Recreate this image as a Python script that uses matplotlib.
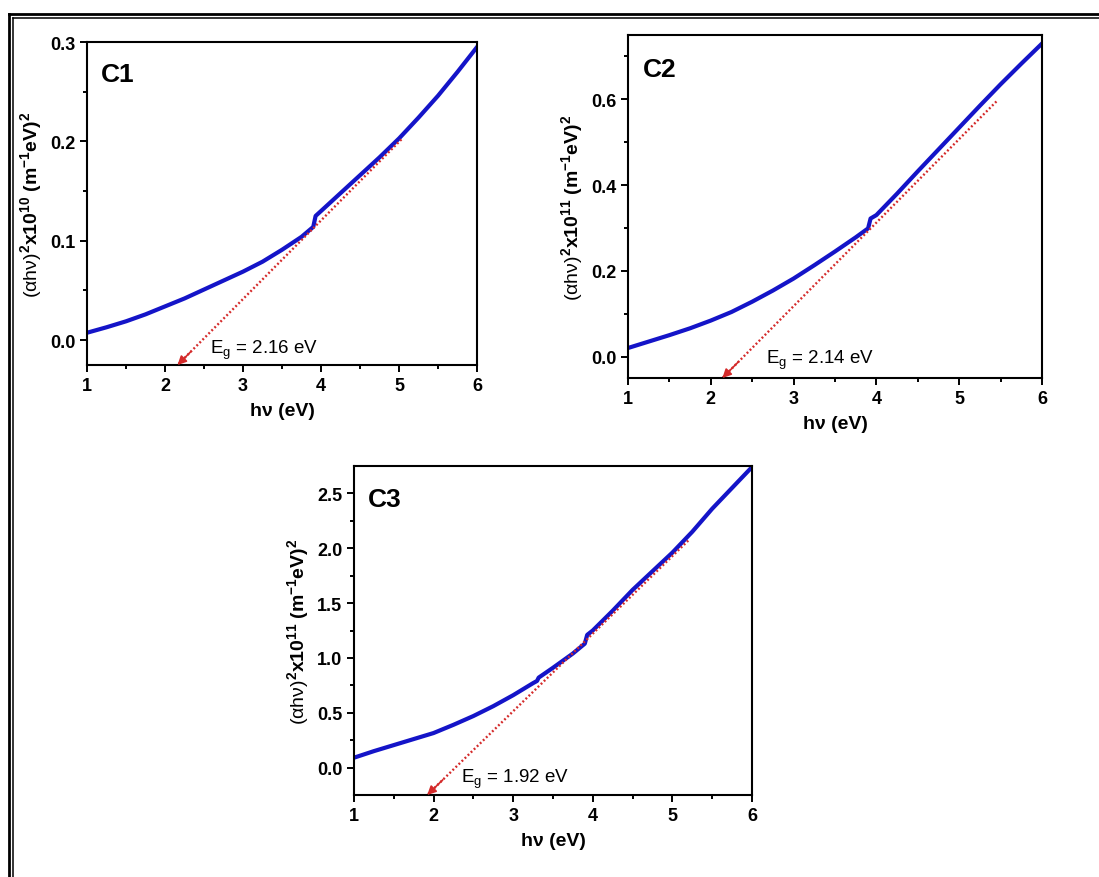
#!/usr/bin/env python3
"""Tauc plots (C1, C2, C3) with extrapolated band gaps."""

import matplotlib
matplotlib.use("Agg")
import matplotlib.pyplot as plt
from matplotlib.lines import Line2D

# --- data ----------------------------------------------------------------------
X1 = [1.0, 1.25, 1.5, 1.75, 2.0, 2.25, 2.5, 2.75, 3.0, 3.25, 3.5, 3.75, 3.9,
      3.93, 4.0, 4.25, 4.5, 4.75, 5.0, 5.25, 5.5, 5.75, 6.0]
Y1 = [0.0075, 0.013, 0.019, 0.026, 0.034, 0.042, 0.051, 0.060, 0.069, 0.079,
      0.091, 0.104, 0.114, 0.125, 0.130, 0.148, 0.166, 0.184, 0.203, 0.224,
      0.246, 0.270, 0.295]

X2 = [1.0, 1.25, 1.5, 1.75, 2.0, 2.25, 2.5, 2.75, 3.0, 3.25, 3.5, 3.75, 3.9,
      3.93, 4.0, 4.25, 4.5, 4.75, 5.0, 5.25, 5.5, 5.75, 6.0]
Y2 = [0.020, 0.035, 0.050, 0.066, 0.084, 0.104, 0.128, 0.154, 0.182, 0.213,
      0.245, 0.278, 0.299, 0.322, 0.330, 0.380, 0.432, 0.483, 0.534, 0.585,
      0.635, 0.683, 0.730]

X3 = [1.0, 1.25, 1.5, 1.75, 2.0, 2.25, 2.5, 2.75, 3.0, 3.25, 3.3, 3.32, 3.5,
      3.75, 3.9, 3.93, 4.0, 4.25, 4.5, 4.75, 5.0, 5.25, 5.5, 5.75, 6.0]
Y3 = [0.09, 0.15, 0.205, 0.26, 0.315, 0.39, 0.47, 0.56, 0.66, 0.77, 0.79,
      0.82, 0.91, 1.04, 1.13, 1.21, 1.25, 1.43, 1.62, 1.79, 1.96, 2.15, 2.36,
      2.55, 2.74]

# extrapolation lines: (start x, start y) -> arrow tip at (Eg, y-bottom)
FIT1 = [(5.03, 0.202), (2.16, -0.025)]
FIT2 = [(5.45, 0.595), (2.14, -0.05)]
FIT3 = [(5.20, 2.07), (1.92, -0.25)]

LABELS = ["C1", "C2", "C3"]
EG_TEXT = ["2.16", "2.14", "1.92"]
EXPONENTS = ["10", "11", "11"]

# --- style --------------------------------------------------------------------
plt.rcParams["font.family"] = "Liberation Sans"
plt.rcParams["mathtext.fontset"] = "custom"
plt.rcParams["mathtext.rm"] = "Liberation Sans"
plt.rcParams["mathtext.bf"] = "Liberation Sans:bold"
plt.rcParams["mathtext.it"] = "Liberation Sans:italic"

BLUE = "#1414c8"
RED = "#d42a2a"


def style_axes(ax, ylim, ymajor, yminor):
    ax.set_xlim(1, 6)
    ax.set_ylim(*ylim)
    ax.set_xticks(range(1, 7))
    ax.set_xticks([1.5, 2.5, 3.5, 4.5, 5.5], minor=True)
    ax.set_yticks(ymajor)
    ax.set_yticks(yminor, minor=True)
    for s in ax.spines.values():
        s.set_linewidth(1.5)
    ax.tick_params(which="both", direction="out", width=1.4, top=False,
                   right=False, labelsize=13)
    ax.tick_params(which="major", length=5)
    ax.tick_params(which="minor", length=3)
    for t in ax.get_xticklabels() + ax.get_yticklabels():
        t.set_fontweight("bold")


def draw_panel(ax, x, y, fit, label, eg, expo, eg_pos):
    ax.plot(x, y, color=BLUE, lw=3.0, solid_joinstyle="round")
    (x0, y0), (x1, y1) = fit
    ax.plot([x0, x1], [y0, y1], color=RED, lw=1.7, ls=(0, (0.8, 1.0)))
    # small arrow head at the tip
    hx = x1 + (x0 - x1) * 0.06
    hy = y1 + (y0 - y1) * 0.06
    ax.annotate("", xy=(x1, y1), xytext=(hx, hy),
                arrowprops=dict(arrowstyle="-|>", color=RED, lw=1.2,
                                mutation_scale=13, shrinkA=0, shrinkB=0))
    ax.text(0.035, 0.90, label, transform=ax.transAxes, fontsize=19,
            fontweight="bold", va="center", ha="left")
    ax.text(eg_pos[0], eg_pos[1], r"E$_\mathrm{g}$ = " + eg + " eV",
            fontsize=13.5, va="center", ha="left")
    ax.set_xlabel("hν (eV)", fontsize=14, fontweight="bold", labelpad=6)
    ax.set_ylabel(r"$\mathrm{(\alpha h\nu)}^\mathbf{2}\mathbf{x10}^\mathbf{"
                  + expo + r"}\ \mathbf{(m^{-1}eV)^2}$", fontsize=14,
                  labelpad=4)


fig = plt.figure(figsize=(10.99, 8.78), dpi=100)
ax1 = fig.add_axes([0.0792, 0.5831, 0.3549, 0.3679])
ax2 = fig.add_axes([0.5714, 0.5683, 0.3767, 0.3907])
ax3 = fig.add_axes([0.3221, 0.0934, 0.3621, 0.3747])

draw_panel(ax1, X1, Y1, FIT1, LABELS[0], EG_TEXT[0], EXPONENTS[0], (2.58, -0.009))
style_axes(ax1, (-0.025, 0.3), [0.0, 0.1, 0.2, 0.3], [0.05, 0.15, 0.25])

draw_panel(ax2, X2, Y2, FIT2, LABELS[1], EG_TEXT[1], EXPONENTS[1], (2.67, -0.006))
style_axes(ax2, (-0.05, 0.75), [0.0, 0.2, 0.4, 0.6], [0.1, 0.3, 0.5, 0.7])

draw_panel(ax3, X3, Y3, FIT3, LABELS[2], EG_TEXT[2], EXPONENTS[2], (2.35, -0.1))
style_axes(ax3, (-0.25, 2.75), [0.0, 0.5, 1.0, 1.5, 2.0, 2.5],
           [0.25, 0.75, 1.25, 1.75, 2.25])

# double frame along the left and top edges
W, H = 1099, 878
for xp, lw in [(8.5, 2.0), (12.8, 1.1)]:
    fig.add_artist(Line2D([xp / W, xp / W], [0, 1 - (xp + 6.5) / H],
                          transform=fig.transFigure, color="black", lw=lw))
for yp, lw in [(15, 2.0), (19.3, 1.1)]:
    fig.add_artist(Line2D([(yp - 6.5) / W, 1], [1 - yp / H, 1 - yp / H],
                          transform=fig.transFigure, color="black", lw=lw))

fig.savefig("out.png", dpi=100, facecolor="white")
